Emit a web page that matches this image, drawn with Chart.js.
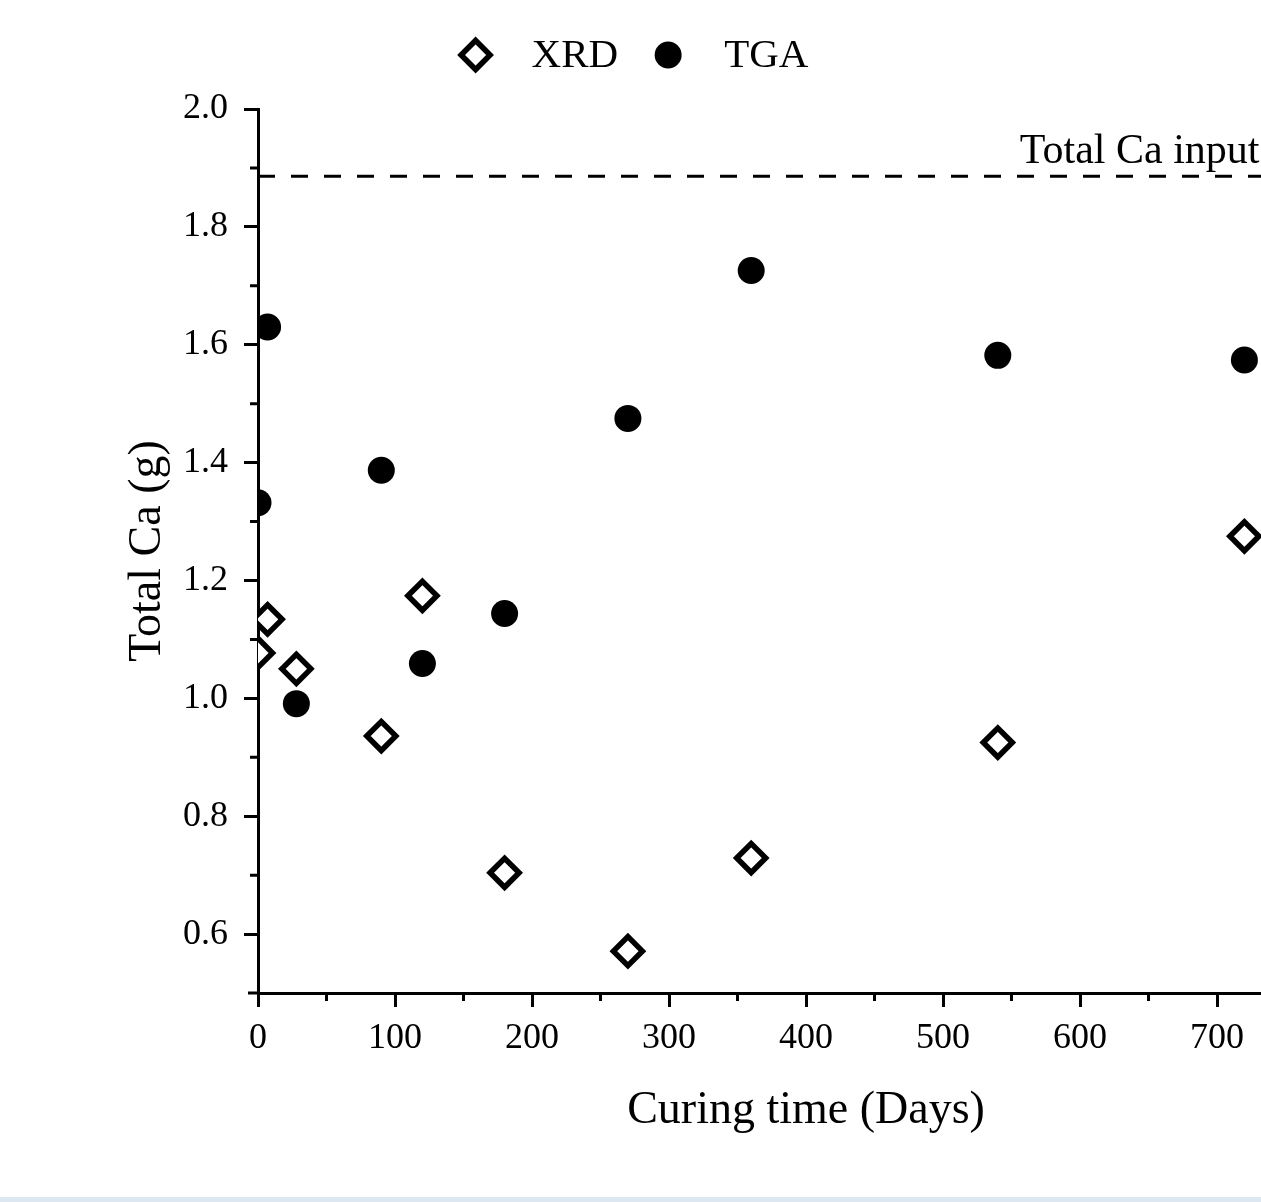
<!DOCTYPE html>
<html>
<head>
<meta charset="utf-8">
<script src="https://cdn.jsdelivr.net/npm/chart.js@4.4.1/dist/chart.umd.min.js"></script>
<style>
  html, body { margin: 0; padding: 0; background: #dce7f1; overflow: hidden; }
  #wrap { width: 1261px; height: 1197px; background: #fff; overflow: hidden; }
  canvas { display: block; }
</style>
</head>
<body>
<div id="wrap"><canvas id="chart1" width="1400" height="1197"></canvas></div>
<script>
// curing time (days) and total Ca (g)
const days = [0, 7, 28, 90, 120, 180, 270, 360, 540, 720];
const xrdCa = [1.077, 1.134, 1.050, 0.936, 1.174, 0.704, 0.571, 0.729, 0.925, 1.275];
const tgaCa = [1.332, 1.630, 0.991, 1.387, 1.059, 1.144, 1.475, 1.726, 1.582, 1.574];
const totalCaInput = 1.886;

const xTicks = [0, 100, 200, 300, 400, 500, 600, 700, 800];
const xMinor = [50, 150, 250, 350, 450, 550, 650, 750];
const yTicks = [0.6, 0.8, 1.0, 1.2, 1.4, 1.6, 1.8, 2.0];
const yMinor = [0.7, 0.9, 1.1, 1.3, 1.5, 1.7, 1.9];

const serif = '"Liberation Serif", "Times New Roman", serif';

// minor ticks, dashed input line and its label
const extras = {
    id: 'extras',
    afterDraw(chart) {
        const ctx = chart.ctx;
        const a = chart.chartArea;
        const x = chart.scales.x, y = chart.scales.y;
        ctx.save();
        ctx.strokeStyle = '#000';
        ctx.lineWidth = 3;
        ctx.beginPath();
        xMinor.forEach(v => {
            const px = x.getPixelForValue(v);
            ctx.moveTo(px, a.bottom);
            ctx.lineTo(px, a.bottom + 8);
        });
        yMinor.forEach(v => {
            const py = y.getPixelForValue(v);
            ctx.moveTo(a.left, py);
            ctx.lineTo(a.left - 8, py);
        });
        ctx.moveTo(a.left - 10, a.bottom);
        ctx.lineTo(a.left, a.bottom);
        ctx.stroke();

        const ly = y.getPixelForValue(totalCaInput);
        ctx.setLineDash([17, 16]);
        ctx.lineWidth = 3;
        ctx.beginPath();
        ctx.moveTo(a.left, ly);
        ctx.lineTo(a.right, ly);
        ctx.stroke();
        ctx.setLineDash([]);

        ctx.fillStyle = '#000';
        ctx.font = '42px ' + serif;
        ctx.textAlign = 'right';
        ctx.textBaseline = 'alphabetic';
        ctx.fillText('Total Ca input', x.getPixelForValue(731), ly - 13);
        ctx.restore();
    }
};

// legend row above the plot
const topLegend = {
    id: 'topLegend',
    afterDraw(chart) {
        const ctx = chart.ctx;
        ctx.save();
        ctx.font = '41px ' + serif;
        const items = chart.data.datasets.map(ds => ({
            text: ds.label,
            w: ctx.measureText(ds.label).width,
            ds: ds
        }));
        const toText = 56, toNext = 50, half = 17;
        let total = half;
        items.forEach((it, i) => {
            total += toText + it.w;
            if (i < items.length - 1) total += toNext;
        });
        const visibleWidth = 1261;
        let cx = (visibleWidth - total) / 2 + half + 3;
        const cy = 55;
        items.forEach(it => {
            const ds = it.ds;
            ctx.fillStyle = ds.pointBackgroundColor;
            ctx.strokeStyle = ds.pointBorderColor;
            ctx.lineWidth = ds.pointBorderWidth;
            Chart.helpers.drawPoint(ctx, {
                pointStyle: ds.pointStyle,
                radius: ds.pointRadius,
                borderWidth: ds.pointBorderWidth,
                rotation: 0
            }, cx, cy);
            ctx.fillStyle = '#000';
            ctx.textAlign = 'left';
            ctx.textBaseline = 'middle';
            ctx.fillText(it.text, cx + toText, cy + 1);
            cx += toText + it.w + toNext;
        });
        ctx.restore();
    }
};

function draw() {
    const ctx1 = document.getElementById('chart1').getContext('2d');
    new Chart(ctx1, {
        type: 'scatter',
        data: {
            datasets: [{
                label: 'XRD',
                data: days.map((d, i) => ({ x: d, y: xrdCa[i] })),
                pointStyle: 'rectRot',
                pointRadius: 14.5,
                pointBorderWidth: 5.5,
                pointBorderColor: '#000',
                pointBackgroundColor: '#fff',
                showLine: false,
                clip: 0
            }, {
                label: 'TGA',
                data: days.map((d, i) => ({ x: d, y: tgaCa[i] })),
                pointStyle: 'circle',
                pointRadius: 13.5,
                pointBorderWidth: 0,
                pointBorderColor: '#000',
                pointBackgroundColor: '#000',
                showLine: false,
                clip: 0
            }]
        },
        options: {
            responsive: false,
            animation: false,
            devicePixelRatio: 1,
            layout: { padding: { left: 0, right: 46, top: 109, bottom: 0 } },
            plugins: {
                legend: { display: false },
                tooltip: { enabled: false }
            },
            scales: {
                x: {
                    type: 'linear',
                    min: 0,
                    max: 800,
                    afterBuildTicks: s => { s.ticks = xTicks.map(v => ({ value: v })); },
                    afterFit: s => { s.height = 204; },
                    border: { display: true, width: 3, color: '#000' },
                    grid: { drawOnChartArea: false, drawTicks: true, tickLength: 14, tickWidth: 3, tickColor: '#000' },
                    ticks: {
                        autoSkip: false,
                        maxRotation: 0,
                        padding: 10,
                        color: '#000',
                        font: { family: serif, size: 36 },
                        callback: v => String(v)
                    },
                    title: {
                        display: true,
                        text: 'Curing time (Days)',
                        color: '#000',
                        font: { family: serif, size: 46 },
                        padding: { top: 0, bottom: 58 }
                    }
                },
                y: {
                    type: 'linear',
                    min: 0.5,
                    max: 2.0,
                    afterBuildTicks: s => { s.ticks = yTicks.map(v => ({ value: v })); },
                    afterFit: s => { s.width = 258; },
                    border: { display: true, width: 3, color: '#000' },
                    grid: { drawOnChartArea: false, drawTicks: true, tickLength: 14, tickWidth: 3, tickColor: '#000' },
                    ticks: {
                        padding: 16,
                        color: '#000',
                        font: { family: serif, size: 36 },
                        callback: v => v.toFixed(1)
                    },
                    title: {
                        display: true,
                        text: 'Total Ca (g)',
                        color: '#000',
                        font: { family: serif, size: 46 },
                        padding: { top: 120, bottom: 0 }
                    }
                }
            }
        },
        plugins: [extras, topLegend]
    });
}

if (document.fonts && document.fonts.load) {
    document.fonts.load('36px "Liberation Serif"').then(draw, draw);
} else {
    draw();
}
</script>
</body>
</html>
